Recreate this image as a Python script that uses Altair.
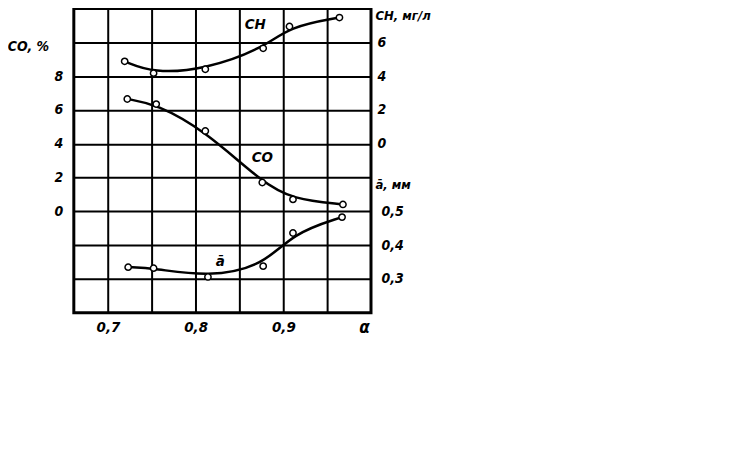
import altair as alt
import pandas as pd

# ---- data ----
alpha_co = [0.722, 0.755, 0.811, 0.876, 0.911, 0.968]
co_pct = [6.65, 6.35, 4.76, 1.71, 0.71, 0.41]

alpha_ch = [0.719, 0.752, 0.811, 0.877, 0.907, 0.964]
ch_mg = [4.88, 4.18, 4.41, 5.65, 6.94, 7.47]

alpha_a = [0.723, 0.752, 0.814, 0.877, 0.911, 0.967]
a_mm = [0.335, 0.332, 0.306, 0.338, 0.436, 0.483]

x_ticks = [0.7, 0.75, 0.8, 0.85, 0.9, 0.95]
co_ticks = [-4, -2, 0, 2, 4, 6, 8, 10]
ch_ticks = [0, 2, 4, 6]
a_ticks = [0.3, 0.4, 0.5]

lbl_co = {"alpha": [0.876], "co": [3.2], "t": ["CO"]}
lbl_ch = {"alpha": [0.868], "ch": [7.1], "t": ["CH"]}
lbl_a = {"alpha": [0.828], "a": [0.352], "t": ["ā"]}

FONT = "DejaVu Sans Condensed"
lab = dict(labelFont=FONT, labelFontStyle="italic", labelFontWeight="bold",
           labelColor="black", labelFontSize=14)
ttl = dict(titleFont=FONT, titleFontStyle="italic", titleFontWeight="bold",
           titleColor="black", titleFontSize=14, titleAngle=0)

x_axis = alt.Axis(values=x_ticks, grid=True, gridColor="black", gridWidth=2,
                  ticks=False, domain=False, labelPadding=7,
                  labelExpr="(round(datum.value*100) % 10 == 0) ? replace(format(datum.value, '.1f'), '.', ',') : ''",
                  title="α", titleX=291, titleY=7, titleAlign="center", titleBaseline="top",
                  **{**lab, "labelFontSize": 15}, **{**ttl, "titleFontSize": 17})
X = alt.X("alpha:Q", scale=alt.Scale(domain=[0.661, 1.0], nice=False, zero=False), axis=x_axis)

line_style = dict(color="black", strokeWidth=2.5, interpolate="basis")
pt_style = dict(shape="circle", filled=True, fill="white", stroke="black",
                strokeWidth=1.5, size=40, opacity=1)
txt_style = dict(font=FONT, fontStyle="italic", fontWeight="bold", fontSize=15, color="black")

# CO layer (left axis, carries the horizontal grid)
df_co = pd.DataFrame({"alpha": alpha_co, "co": co_pct})
Y_co = alt.Y("co:Q", scale=alt.Scale(domain=[-6, 12], nice=False, zero=False),
             axis=alt.Axis(orient="left", values=co_ticks, grid=True, gridColor="black",
                           gridWidth=2, ticks=False, domain=False, labelPadding=11,
                           labelExpr="(datum.value >= 0 && datum.value <= 8) ? datum.value : ''",
                           title="CO, %", titleX=-46, titleY=38, titleAlign="center",
                           titleBaseline="middle", **lab, **ttl))
co_layer = alt.layer(
    alt.Chart(df_co).mark_line(**line_style).encode(x=X, y=Y_co),
    alt.Chart(df_co).mark_point(**pt_style).encode(x=X, y=Y_co),
    alt.Chart(pd.DataFrame(lbl_co)).mark_text(**txt_style).encode(x=X, y=Y_co, text="t:N"),
)

# CH layer (right axis, upper)
df_ch = pd.DataFrame({"alpha": alpha_ch, "ch": ch_mg})
Y_ch = alt.Y("ch:Q", scale=alt.Scale(domain=[-10, 8], nice=False, zero=False),
             axis=alt.Axis(orient="right", values=ch_ticks, grid=False, ticks=False,
                           domain=False, labelPadding=6,
                           title="CH, мг/л", titleX=4, titleY=1, titleAlign="left",
                           titleBaseline="top", **lab, **{**ttl, "titleFontSize": 13}))
ch_layer = alt.layer(
    alt.Chart(df_ch).mark_line(**line_style).encode(x=X, y=Y_ch),
    alt.Chart(df_ch).mark_point(**pt_style).encode(x=X, y=Y_ch),
    alt.Chart(pd.DataFrame(lbl_ch)).mark_text(**txt_style).encode(x=X, y=Y_ch, text="t:N"),
)

# a layer (right axis, lower)
df_a = pd.DataFrame({"alpha": alpha_a, "a": a_mm})
Y_a = alt.Y("a:Q", scale=alt.Scale(domain=[0.2, 1.1], nice=False, zero=False),
            axis=alt.Axis(orient="right", values=a_ticks, grid=False, ticks=False,
                          domain=False, labelPadding=10,
                          labelExpr="replace(format(datum.value, '.1f'), '.', ',')",
                          title="ā, мм", titleX=4, titleY=176, titleAlign="left",
                          titleBaseline="middle", **lab, **{**ttl, "titleFontSize": 13}))
a_layer = alt.layer(
    alt.Chart(df_a).mark_line(**line_style).encode(x=X, y=Y_a),
    alt.Chart(df_a).mark_point(**pt_style).encode(x=X, y=Y_a),
    alt.Chart(pd.DataFrame(lbl_a)).mark_text(**txt_style).encode(x=X, y=Y_a, text="t:N"),
)

chart = alt.layer(co_layer, ch_layer, a_layer).resolve_scale(y="independent").properties(
    width=298, height=305,
    autosize=alt.AutoSizeParams(type="none"),
    padding={"left": 66, "top": 0, "right": 360, "bottom": 135},
    background="white",
).configure_view(stroke="black", strokeWidth=3)

chart.save("out.html", embed_options={"renderer": "svg", "actions": False})
